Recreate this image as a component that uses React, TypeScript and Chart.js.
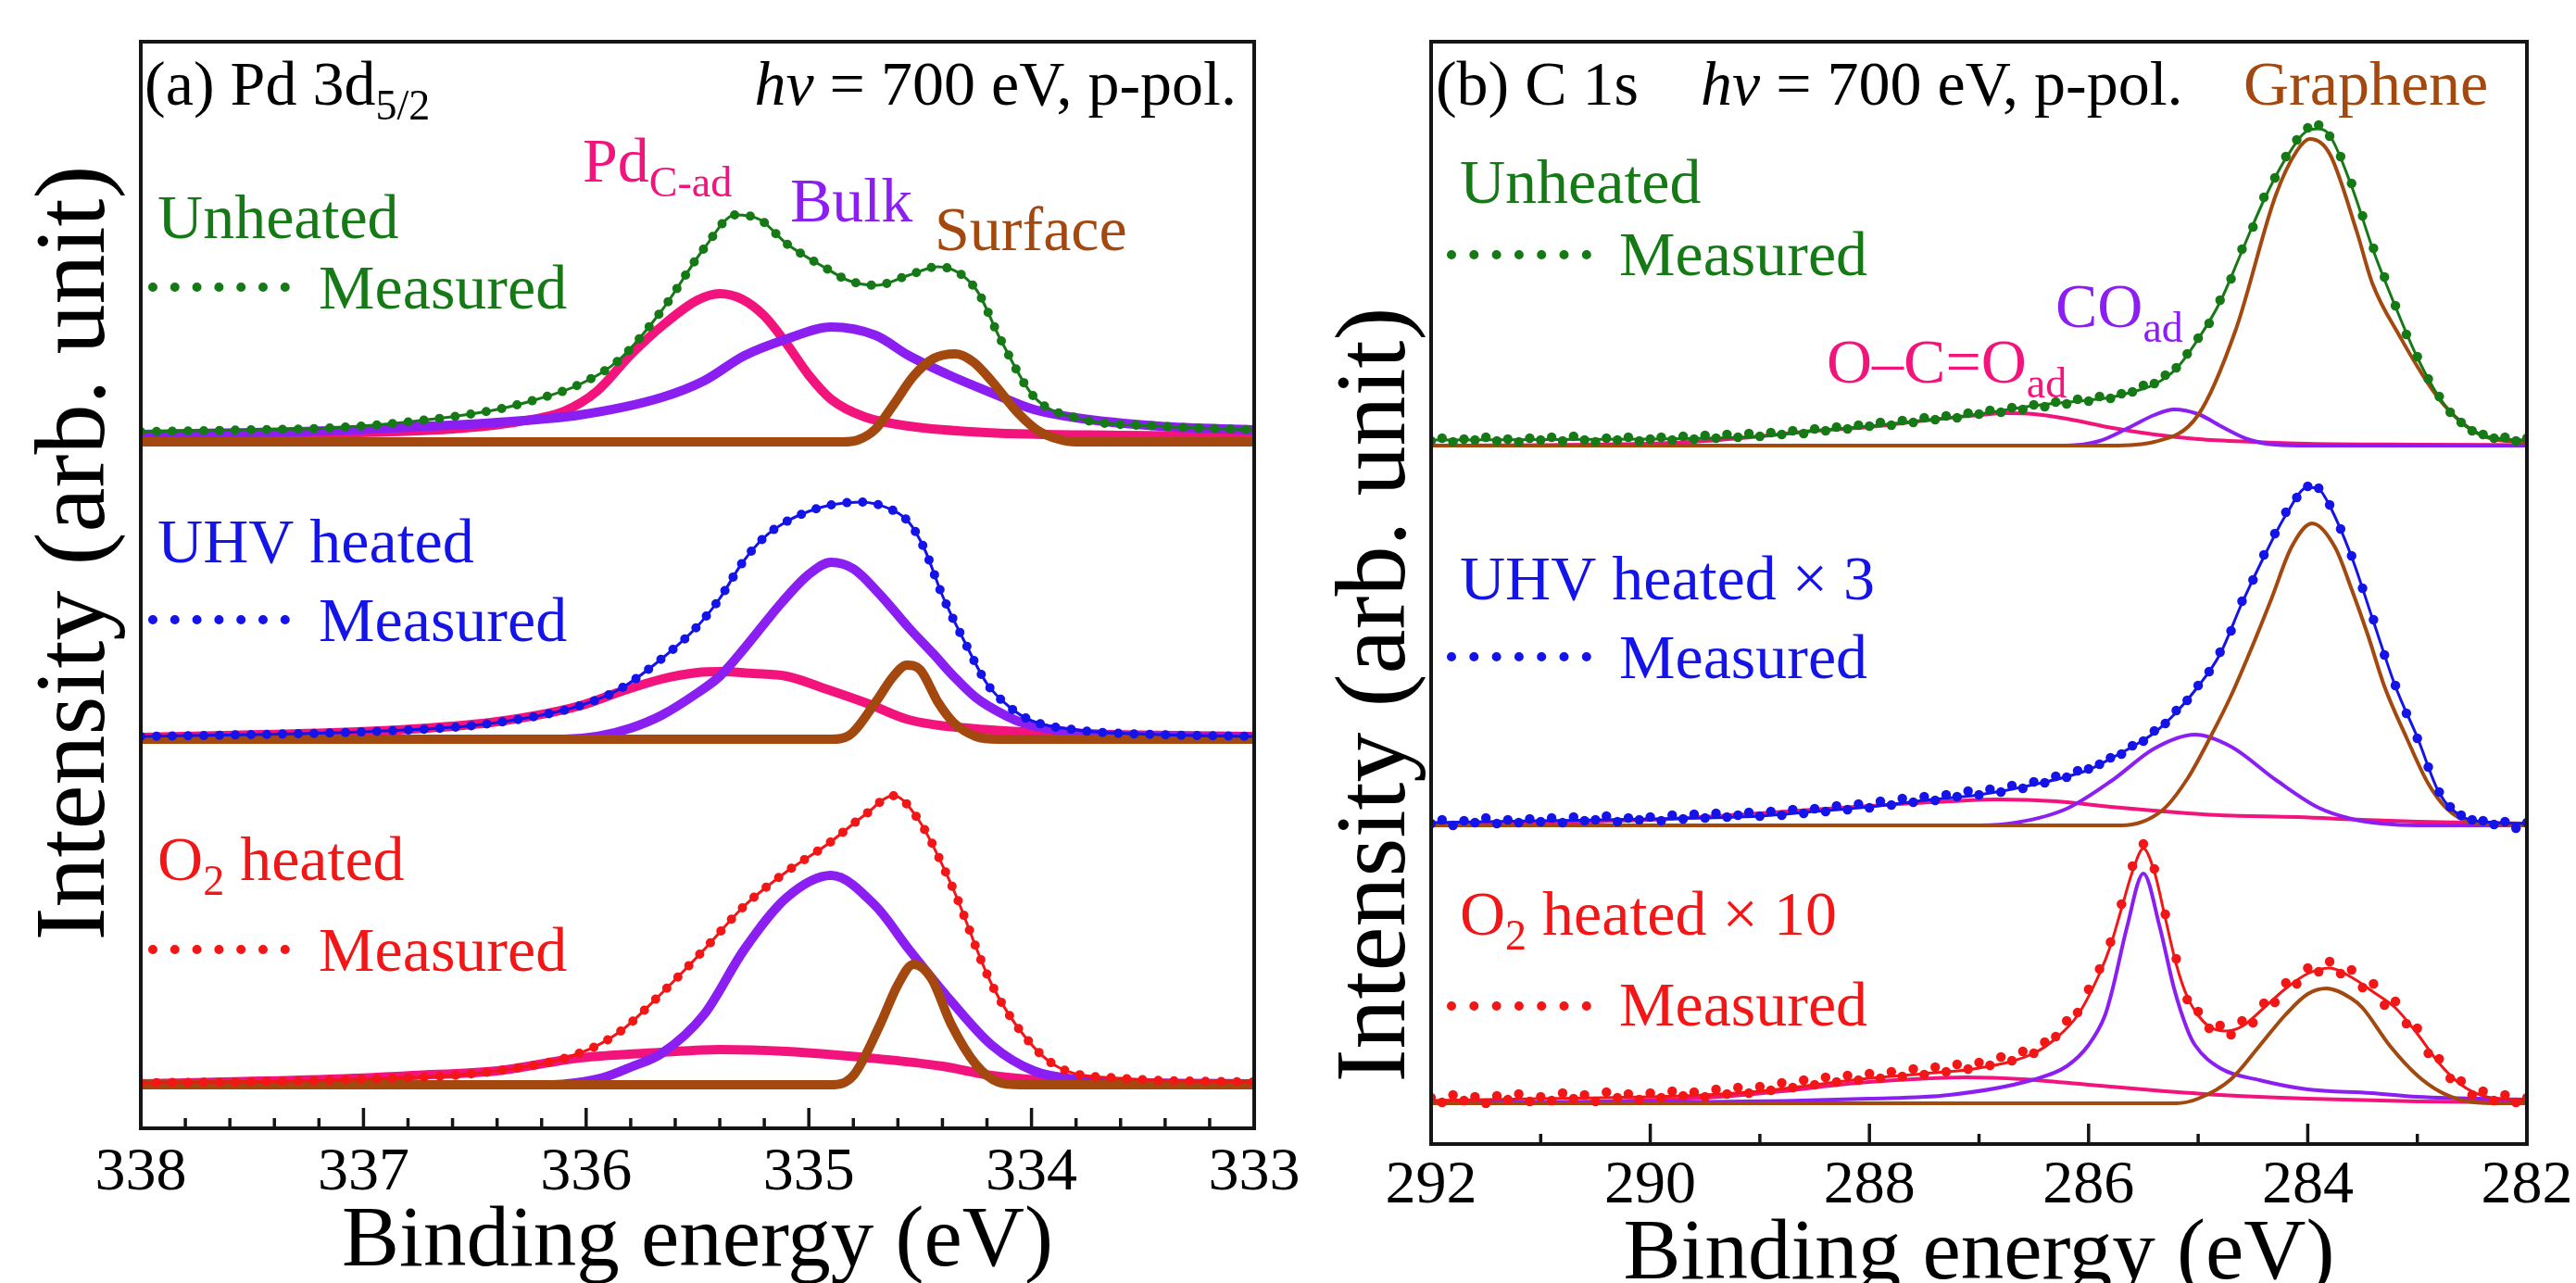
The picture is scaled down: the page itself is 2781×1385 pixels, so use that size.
import { useEffect, useRef } from "react";
import { Chart, registerables } from "chart.js";
Chart.register(...registerables);

type P = [number, number];
const FONT = "'Liberation Serif', 'Times New Roman', Times, serif";

const GREEN = "#157a15";
const BLUE = "#1414e8";
const RED = "#f21616";
const PINK = "#f2137c";
const PURPLE = "#8b1ff2";
const BROWN = "#a3480f";

// ---------------- Panel (a) Pd 3d5/2 ----------------
const A_OFFSETS = [74.1, 42.0, 4.7]; // Unheated, UHV heated, O2 heated baselines
const A_MAJOR_TICKS = [338, 337, 336, 335, 334, 333];

const A_UNH_MEAS: P[] = [[338, 1.1], [337.5, 1.3], [337.15, 1.5], [336.78, 2.2], [336.4, 3.5], [336.22, 4.6], [336.03, 6.2], [335.85, 8.9], [335.66, 14.2], [335.47, 20.9], [335.33, 24.5], [335.22, 24.0], [335.1, 21.4], [334.92, 18.7], [334.82, 17.4], [334.7, 16.9], [334.55, 18.0], [334.42, 18.9], [334.25, 16.5], [334.14, 11.1], [333.99, 4.9], [333.8, 2.6], [333.43, 1.7], [333, 1.3]];
const A_UNH_PDC: P[] = [[338, 0.7], [337.2, 0.9], [336.6, 1.4], [336.3, 2.2], [336.1, 3.3], [335.95, 5.5], [335.8, 9.4], [335.65, 12.7], [335.5, 15.3], [335.4, 16.0], [335.3, 15.4], [335.2, 13.6], [335.1, 10.6], [335.0, 7.2], [334.9, 4.6], [334.75, 2.7], [334.55, 1.7], [334.2, 1.0], [333.6, 0.7], [333, 0.6]];
const A_UNH_BULK: P[] = [[338, 0.8], [337.15, 1.2], [336.78, 1.6], [336.4, 2.1], [336.03, 2.9], [335.66, 4.8], [335.47, 6.6], [335.29, 9.3], [335.1, 11.1], [334.9, 12.4], [334.7, 11.5], [334.55, 9.3], [334.36, 7.1], [334.18, 5.3], [333.99, 3.5], [333.8, 2.6], [333.43, 1.7], [333, 1.3]];
const A_UNH_SURF: P[] = [[338, 0], [334.85, 0], [334.78, 0.2], [334.7, 1.4], [334.62, 4.0], [334.53, 7.1], [334.44, 9.0], [334.34, 9.5], [334.26, 8.6], [334.18, 6.6], [334.06, 3.1], [333.97, 1.2], [333.88, 0.3], [333.8, 0], [333, 0]];

const A_UHV_MEAS: P[] = [[338, 0.3], [337.5, 0.5], [337, 0.8], [336.5, 1.5], [336.2, 2.6], [336.03, 3.6], [335.85, 5.4], [335.66, 8.7], [335.5, 12.2], [335.4, 15.2], [335.3, 19.0], [335.2, 21.8], [335.1, 23.5], [335, 24.6], [334.9, 25.3], [334.77, 25.6], [334.65, 25.0], [334.55, 23.4], [334.48, 20.5], [334.4, 15.5], [334.3, 10.5], [334.2, 6.0], [334.1, 3.5], [334.0, 2.0], [333.8, 1.0], [333.43, 0.5], [333, 0.3]];
const A_UHV_PDC: P[] = [[338, 0.2], [337.15, 0.7], [336.78, 1.1], [336.4, 1.9], [336.03, 3.6], [335.85, 5.1], [335.66, 6.5], [335.5, 7.2], [335.4, 7.3], [335.25, 7.1], [335.1, 6.8], [334.92, 5.4], [334.73, 3.8], [334.55, 2.1], [334.18, 1.0], [333.8, 0.6], [333, 0.3]];
const A_UHV_BULK: P[] = [[338, 0], [336.1, 0], [335.95, 0.3], [335.8, 1.2], [335.66, 2.6], [335.5, 5.0], [335.4, 6.8], [335.29, 9.8], [335.12, 14.8], [335.0, 17.8], [334.9, 19.1], [334.8, 18.4], [334.68, 15.6], [334.55, 12.0], [334.44, 9.2], [334.35, 6.8], [334.25, 4.5], [334.12, 2.6], [334.03, 1.7], [333.8, 0.7], [333.4, 0.3], [333, 0.2]];
const A_UHV_SURF: P[] = [[338, 0], [334.9, 0], [334.82, 0.4], [334.7, 4.0], [334.62, 6.8], [334.56, 8.0], [334.5, 7.5], [334.42, 4.0], [334.35, 1.8], [334.25, 0.3], [334.15, 0], [333, 0]];

const A_O2_MEAS: P[] = [[338, 0.2], [337.15, 0.5], [336.4, 1.5], [336.03, 3.4], [335.85, 5.7], [335.66, 9.9], [335.47, 14.6], [335.29, 19.3], [335.1, 23.0], [334.92, 25.9], [334.75, 29.1], [334.62, 31.2], [334.51, 28.7], [334.36, 21.6], [334.18, 10.9], [334.03, 5.2], [333.88, 1.9], [333.6, 0.7], [333, 0.3]];
const A_O2_PDC: P[] = [[338, 0.1], [337.15, 0.6], [336.78, 1.0], [336.4, 1.5], [336.03, 2.9], [335.66, 3.5], [335.4, 3.8], [335.1, 3.6], [334.73, 2.9], [334.4, 2.0], [334.18, 1.0], [333.8, 0.3], [333, 0.1]];
const A_O2_BULK: P[] = [[338, 0], [336.15, 0], [336.05, 0.2], [335.92, 0.8], [335.8, 1.9], [335.66, 3.4], [335.47, 7.6], [335.29, 14.6], [335.1, 20.2], [334.9, 22.6], [334.7, 19.3], [334.55, 14.6], [334.36, 9.0], [334.18, 4.3], [333.99, 1.5], [333.8, 0.6], [333.5, 0.2], [333, 0.1]];
const A_O2_SURF: P[] = [[338, 0], [334.9, 0], [334.8, 1.0], [334.68, 6.5], [334.6, 10.8], [334.53, 13.0], [334.45, 11.5], [334.36, 6.5], [334.25, 2.2], [334.15, 0.3], [334.05, 0], [333, 0]];

// ---------------- Panel (b) C 1s ----------------
const B_OFFSETS = [75.4, 34.4, 4.4];
const B_MAJOR_TICKS = [292, 290, 288, 286, 284, 282];
const B_MEAS_START = 292;
const B_MEAS_STEP = 0.1;

const B_UNH_MEAS = [
  0.5, 0.8, 0.4, 0.7, 0.6, 0.9, 0.5, 0.7, 0.4, 0.8,
  0.6, 0.9, 0.5, 1.0, 0.6, 0.4, 0.8, 0.6, 0.9, 0.5,
  0.7, 0.9, 0.6, 1.0, 0.7, 1.1, 0.8, 1.2, 0.9, 1.3,
  1.0, 1.4, 1.2, 1.6, 1.3, 1.8, 1.6, 2.0, 1.8, 2.2,
  2.1, 2.5, 2.2, 2.7, 2.5, 3.0, 2.8, 3.2, 3.0, 3.5,
  3.4, 3.8, 3.6, 4.1, 3.9, 4.4, 4.2, 4.7, 4.5, 5.0,
  4.8, 5.3, 5.1, 5.6, 5.8, 6.5, 6.7, 7.6, 8.4, 9.9,
  11.6, 13.2, 15.7, 18.0, 21.2, 23.6, 26.8, 28.9, 31.2, 33.0,
  34.3, 34.6, 33.4, 31.2, 28.3, 24.8, 21.3, 18.2, 15.1, 12.0,
  9.6, 7.2, 5.3, 3.6, 2.5, 1.6, 1.2, 0.8, 0.9, 0.5,
  0.8,
];
const B_UNH_FIT: P[] = [[292, 0.6], [290, 0.7], [289, 1.0], [288.5, 1.6], [288, 2.1], [287.5, 2.7], [287, 3.4], [286.5, 4.3], [286, 4.9], [285.8, 5.2], [285.6, 5.8], [285.4, 6.6], [285.2, 8.3], [285, 11.5], [284.8, 15.5], [284.6, 21], [284.4, 26.5], [284.2, 31], [284, 34.0], [283.9, 34.2], [283.8, 33.5], [283.6, 28], [283.4, 21], [283.2, 15], [283, 9.5], [282.8, 5.2], [282.6, 2.5], [282.4, 1.1], [282.2, 0.7], [282, 0.6]];
const B_UNH_GRAPH: P[] = [[292, 0], [285.8, 0], [285.4, 0.4], [285, 3.3], [284.66, 12.4], [284.29, 27.1], [284.1, 31.8], [283.98, 33.1], [283.8, 31.5], [283.55, 23.0], [283.41, 17.5], [283.17, 12.0], [282.8, 5.0], [282.43, 1.2], [282, 0.3]];
const B_UNH_CO: P[] = [[292, 0], [286.2, 0], [285.9, 0.5], [285.63, 1.95], [285.4, 3.3], [285.22, 3.9], [285, 3.4], [284.77, 1.95], [284.55, 0.7], [284.3, 0.1], [284, 0], [282, 0]];
const B_UNH_OCO: P[] = [[292, 0], [290, 0.2], [289.5, 0.5], [289, 1.0], [288.5, 1.6], [288, 2.0], [287.5, 2.7], [287, 3.3], [286.75, 3.5], [286.5, 3.4], [286.2, 2.9], [285.78, 1.9], [285.4, 1.2], [285, 0.7], [284.5, 0.4], [284, 0.2], [283, 0.1], [282, 0.05]];

const B_UHV_MEAS = [
  0.2, 0.6, 0.0, 0.5, 0.3, 0.8, 0.2, 0.6, 0.3, 0.7,
  0.4, 0.8, 0.3, 0.9, 0.5, 0.6, 1.0, 0.4, 0.8, 0.6,
  0.9, 0.5, 1.1, 0.7, 1.2, 0.8, 1.3, 0.9, 1.1, 1.4,
  1.0, 1.5, 1.1, 1.7, 1.3, 1.8, 1.5, 2.1, 1.7, 2.3,
  1.9, 2.6, 2.2, 2.9, 2.5, 3.1, 2.7, 3.3, 3.1, 3.7,
  3.3, 3.9, 3.6, 4.3, 4.0, 4.7, 4.6, 5.3, 5.2, 5.9,
  6.1, 6.6, 7.3, 7.7, 8.6, 9.1, 10.2, 11.0, 12.4, 13.5,
  15.1, 16.6, 18.7, 21.0, 24.2, 26.5, 29.2, 31.5, 33.8, 35.4,
  36.6, 36.4, 34.6, 32.0, 29.1, 25.6, 22.2, 18.4, 15.1, 12.1,
  9.4, 6.3, 3.6, 2.0, 1.1, 0.6, 0.5, 0.1, 0.4, -0.3,
  0.3,
];
const B_UHV_FIT: P[] = [[292, 0.3], [291, 0.5], [290, 0.7], [289, 1.0], [288.5, 1.5], [288, 2.0], [287.5, 2.7], [287, 3.3], [286.5, 4.4], [286, 6.0], [285.8, 7.2], [285.6, 8.5], [285.4, 10.0], [285.2, 12.2], [285, 15.0], [284.8, 18.5], [284.6, 24], [284.4, 29], [284.2, 33.5], [284, 36.5], [283.9, 36.3], [283.8, 34.5], [283.6, 29], [283.4, 22], [283.2, 15], [283, 9.5], [282.8, 3.5], [282.6, 1.0], [282.4, 0.4], [282, 0.2]];
const B_UHV_GRAPH: P[] = [[292, 0], [285.7, 0], [285.33, 1.6], [285.1, 5.0], [284.89, 9.5], [284.7, 14.0], [284.5, 19.5], [284.33, 24.5], [284.15, 30.0], [283.96, 32.6], [283.75, 30.0], [283.6, 25.5], [283.45, 20.5], [283.3, 15.0], [283.1, 9.5], [282.9, 4.5], [282.73, 1.8], [282.5, 0.3], [282, 0]];
const B_UHV_CO: P[] = [[292, 0], [287, 0], [286.66, 0.3], [286.2, 1.8], [285.78, 4.9], [285.4, 8.3], [285.03, 9.8], [284.7, 8.5], [284.29, 4.9], [283.9, 1.9], [283.6, 0.7], [283.33, 0.2], [283, 0], [282, 0]];
const B_UHV_OCO: P[] = [[292, 0], [291, 0.3], [290, 0.6], [289, 1.3], [288, 2.1], [287.27, 2.6], [286.83, 2.8], [286.3, 2.6], [285.8, 2.0], [285.41, 1.6], [284.8, 1.1], [284.09, 0.9], [283.5, 0.6], [283, 0.4], [282, 0.2]];

const B_O2_MEAS = [
  0.6, 0.1, 0.9, 0.3, 0.7, 0.0, 0.8, 0.4, 1.0, 0.2,
  0.7, 0.3, 1.1, 0.5, 0.9, 0.2, 1.2, 0.6, 1.0, 0.4,
  1.1, 0.6, 1.3, 0.8, 1.2, 0.7, 1.5, 1.0, 1.7, 1.1,
  1.8, 1.4, 2.2, 1.7, 2.5, 2.0, 2.8, 2.3, 3.0, 2.5,
  3.2, 2.7, 3.4, 2.9, 3.7, 3.1, 3.9, 3.4, 4.2, 3.7,
  4.4, 4.1, 5.0, 4.6, 5.6, 5.4, 6.6, 7.2, 8.9, 9.8,
  12.3, 14.5, 17.4, 21.5, 25.6, 28.0, 25.3, 20.4, 15.6, 11.2,
  9.9, 8.1, 8.4, 7.4, 8.9, 8.7, 10.8, 10.9, 13.0, 12.9,
  14.6, 14.2, 15.3, 14.0, 14.4, 12.5, 12.9, 10.6, 11.0, 8.6,
  8.1, 5.4, 4.8, 2.7, 2.4, 0.9, 1.3, 0.3, 0.9, 0.1,
  0.6,
];
const B_O2_FIT: P[] = [[292, 0.3], [291, 0.5], [290, 0.7], [289.5, 0.9], [289, 1.3], [288.5, 2.0], [288, 2.7], [287.5, 3.2], [287, 3.8], [286.5, 5.4], [286.3, 7], [286.1, 9.5], [285.9, 14], [285.8, 17], [285.7, 21], [285.6, 25], [285.5, 27.5], [285.4, 25], [285.3, 20], [285.2, 15], [285.1, 11.5], [285, 9.5], [284.9, 8.3], [284.75, 7.8], [284.6, 8.3], [284.4, 10.3], [284.2, 12.4], [284, 14.0], [283.8, 14.6], [283.6, 13.6], [283.4, 12.0], [283.2, 10.3], [283, 7.5], [282.8, 4.3], [282.6, 2.0], [282.4, 0.8], [282, 0.3]];
const B_O2_CO: P[] = [[292, 0.1], [289.5, 0.15], [288, 0.5], [287.27, 0.9], [286.52, 2.5], [286.2, 4.0], [286, 6.3], [285.85, 9.5], [285.78, 12.4], [285.65, 19], [285.5, 24.8], [285.35, 19], [285.22, 12.4], [285.1, 8.0], [285.03, 6.3], [284.8, 3.8], [284.44, 2.5], [284, 1.5], [283.42, 1.1], [283, 0.7], [282, 0.4]];
const B_O2_GRAPH: P[] = [[292, 0], [285.2, 0], [285, 0.5], [284.7, 2.6], [284.44, 6.2], [284.2, 9.6], [284, 11.8], [283.83, 12.4], [283.6, 11.3], [283.5, 10.3], [283.25, 6.2], [283, 3.0], [282.8, 1.3], [282.58, 0.3], [282.3, 0], [282, 0]];
const B_O2_OCO: P[] = [[292, 0], [290.5, 0.2], [289.5, 0.6], [288.8, 1.3], [288.2, 2.1], [287.6, 2.6], [287.12, 2.8], [286.6, 2.6], [286, 2.0], [285.4, 1.4], [284.8, 0.9], [284, 0.5], [283, 0.2], [282, 0.1]];

// ---------------- helpers ----------------
interface Part { t: string; sub?: boolean; italic?: boolean }
interface Label { e: number; v: number; parts: Part[]; color: string; align?: "left" | "right" }
interface Dots { e1: number; e2: number; v: number; color: string; gap: number }
interface PanelCfg {
  id: string;
  major: number[];
  minorStep: number;
  min: number;
  max: number;
  labels: Label[];
  dots: Dots[];
  xTitleDy: number;
  yTitleDx: number;
  yTitleCy: number;
}

const T = (t: string, color: string, e: number, v: number): Label => ({ e, v, color, parts: [{ t }] });

const lineDs = (pts: P[], off: number, color: string, width: number) => ({
  data: pts.map(([e, v]) => ({ x: e, y: v + off })),
  borderColor: color,
  backgroundColor: color,
  borderWidth: width,
  pointRadius: 0,
  cubicInterpolationMode: "monotone" as const,
  fill: false,
});

const dottedDs = (pts: P[], off: number, color: string) => ({
  ...lineDs(pts, off, color, 10),
  borderDash: [0, 17],
  borderCapStyle: "round" as const,
});

const scatterDs = (vals: number[], off: number, color: string) => ({
  data: vals.map((v, i) => ({ x: B_MEAS_START - i * B_MEAS_STEP, y: v + off })),
  showLine: false,
  pointRadius: 5.2,
  pointBorderWidth: 0,
  pointBackgroundColor: color,
  borderColor: color,
  backgroundColor: color,
});

function overlay(cfg: PanelCfg) {
  return {
    id: "overlay_" + cfg.id,
    afterDraw(chart: any) {
      const { ctx, chartArea: ca } = chart;
      const xs = chart.scales.x;
      const ys = chart.scales.y;
      ctx.save();
      ctx.setLineDash([]);
      ctx.strokeStyle = "#151515";
      ctx.lineWidth = 4;
      ctx.strokeRect(ca.left, ca.top, ca.right - ca.left, ca.bottom - ca.top);
      ctx.lineWidth = 3.5;
      const n = Math.round((cfg.max - cfg.min) / cfg.minorStep);
      for (let i = 0; i <= n; i++) {
        const v = cfg.min + i * cfg.minorStep;
        const isMajor = cfg.major.some((m) => Math.abs(m - v) < 1e-6);
        const x = xs.getPixelForValue(v);
        ctx.beginPath();
        ctx.moveTo(x, ca.bottom);
        ctx.lineTo(x, ca.bottom - (isMajor ? 22 : 11));
        ctx.stroke();
      }
      cfg.dots.forEach((d) => {
        ctx.save();
        ctx.strokeStyle = d.color;
        ctx.lineWidth = 10;
        ctx.lineCap = "round";
        ctx.setLineDash([0, d.gap]);
        const y = ys.getPixelForValue(d.v);
        ctx.beginPath();
        ctx.moveTo(xs.getPixelForValue(d.e1), y);
        ctx.lineTo(xs.getPixelForValue(d.e2) + 1, y);
        ctx.stroke();
        ctx.restore();
      });
      ctx.textBaseline = "alphabetic";
      ctx.textAlign = "left";
      cfg.labels.forEach((l) => {
        const fontOf = (p: Part) => `${p.italic ? "italic " : ""}${p.sub ? 46 : 68}px ${FONT}`;
        let total = 0;
        l.parts.forEach((p) => {
          ctx.font = fontOf(p);
          total += ctx.measureText(p.t).width;
        });
        let x = xs.getPixelForValue(l.e);
        if (l.align === "right") x -= total;
        const y = ys.getPixelForValue(l.v);
        ctx.fillStyle = l.color;
        l.parts.forEach((p) => {
          ctx.font = fontOf(p);
          ctx.fillText(p.t, x, p.sub ? y + 16 : y);
          x += ctx.measureText(p.t).width;
        });
      });
      ctx.fillStyle = "#000";
      ctx.font = `93px ${FONT}`;
      ctx.textAlign = "center";
      ctx.fillText("Binding energy (eV)", (ca.left + ca.right) / 2, ca.bottom + cfg.xTitleDy);
      ctx.save();
      ctx.translate(ca.left - cfg.yTitleDx, cfg.yTitleCy);
      ctx.rotate(-Math.PI / 2);
      ctx.font = `108px ${FONT}`;
      ctx.fillText("Intensity (arb. unit)", 0, 0);
      ctx.restore();
      ctx.restore();
    },
  };
}

const CFG_A: PanelCfg = {
  id: "a",
  major: A_MAJOR_TICKS,
  minorStep: 0.2,
  min: 333,
  max: 338,
  xTitleDy: 148,
  yTitleDx: 40,
  yTitleCy: 597,
  labels: [
    { e: 337.983, v: 110.5, color: "#000", parts: [{ t: "(a) Pd 3d" }, { t: "5/2", sub: true }] },
    { e: 333.079, v: 110.5, color: "#000", align: "right", parts: [{ t: "hv", italic: true }, { t: " = 700 eV, p-pol." }] },
    { e: 336.016, v: 102.2, color: PINK, parts: [{ t: "Pd" }, { t: "C-ad", sub: true }] },
    T("Bulk", PURPLE, 335.084, 97.9),
    T("Surface", BROWN, 334.435, 94.8),
    T("Unheated", GREEN, 337.925, 96.1),
    T("Measured", GREEN, 337.201, 88.5),
    T("UHV heated", BLUE, 337.925, 61.1),
    T("Measured", BLUE, 337.201, 52.6),
    { e: 337.925, v: 26.8, color: RED, parts: [{ t: "O" }, { t: "2", sub: true }, { t: " heated" }] },
    T("Measured", RED, 337.201, 17.0),
  ],
  dots: [
    { e1: 337.946, e2: 337.351, v: 90.8, color: GREEN, gap: 23.8 },
    { e1: 337.946, e2: 337.351, v: 54.9, color: BLUE, gap: 23.8 },
    { e1: 337.946, e2: 337.351, v: 19.3, color: RED, gap: 23.8 },
  ],
};

const CFG_B: PanelCfg = {
  id: "b",
  major: B_MAJOR_TICKS,
  minorStep: 1,
  min: 282,
  max: 292,
  xTitleDy: 145,
  yTitleDx: 29,
  yTitleCy: 750,
  labels: [
    T("(b) C 1s", "#000", 291.958, 112.2),
    { e: 289.54, v: 112.2, color: "#000", parts: [{ t: "hv", italic: true }, { t: " = 700 eV, p-pol." }] },
    T("Graphene", BROWN, 284.587, 112.2),
    T("Unheated", GREEN, 291.738, 101.6),
    T("Measured", GREEN, 290.284, 93.8),
    { e: 286.303, v: 88.2, color: PURPLE, parts: [{ t: "CO" }, { t: "ad", sub: true }] },
    { e: 288.391, v: 82.2, color: PINK, parts: [{ t: "O\u2013C=O" }, { t: "ad", sub: true }] },
    T("UHV heated \u00d7 3", BLUE, 291.738, 58.8),
    T("Measured", BLUE, 290.284, 50.3),
    { e: 291.738, v: 22.6, color: RED, parts: [{ t: "O" }, { t: "2", sub: true }, { t: " heated \u00d7 10" }] },
    T("Measured", RED, 290.284, 12.8),
  ],
  dots: [
    { e1: 291.814, e2: 290.58, v: 96.0, color: GREEN, gap: 24.3 },
    { e1: 291.814, e2: 290.58, v: 52.6, color: BLUE, gap: 24.3 },
    { e1: 291.814, e2: 290.58, v: 14.9, color: RED, gap: 24.3 },
  ],
};

const W = 2781;
const H = 1385;

function makeChart(canvas: HTMLCanvasElement, cfg: PanelCfg, datasets: any[], pad: { left: number; right: number; top: number }, xHeight: number, yMax: number, step: number, tickPad: number) {
  return new Chart(canvas, {
    type: "line",
    data: { datasets },
    options: {
      responsive: false,
      animation: false,
      events: [],
      layout: { padding: { left: pad.left, right: pad.right, top: pad.top, bottom: 0 } },
      plugins: { legend: { display: false }, tooltip: { enabled: false } },
      scales: {
        x: {
          type: "linear",
          position: "bottom",
          min: cfg.min,
          max: cfg.max,
          reverse: true,
          grid: { display: false },
          border: { display: false },
          ticks: {
            stepSize: step,
            autoSkip: false,
            maxRotation: 0,
            padding: tickPad,
            color: "#000",
            font: { family: FONT, size: 66 },
          },
          afterFit: (s: any) => {
            s.height = xHeight;
          },
        },
        y: { type: "linear", display: false, min: 0, max: yMax },
      },
    },
    plugins: [overlay(cfg) as any],
  } as any);
}

export default function App() {
  const refA = useRef<HTMLCanvasElement>(null);
  const refB = useRef<HTMLCanvasElement>(null);

  useEffect(() => {
    const [ua, va, oa] = A_OFFSETS;
    const dsA = [
      dottedDs(A_UNH_MEAS, ua, GREEN),
      dottedDs(A_UHV_MEAS, va, BLUE),
      dottedDs(A_O2_MEAS, oa, RED),
      lineDs(A_UNH_MEAS, ua, GREEN, 3),
      lineDs(A_UHV_MEAS, va, BLUE, 3),
      lineDs(A_O2_MEAS, oa, RED, 3),
      lineDs(A_UNH_SURF, ua, BROWN, 10),
      lineDs(A_UHV_SURF, va, BROWN, 10),
      lineDs(A_O2_SURF, oa, BROWN, 10),
      lineDs(A_UNH_BULK, ua, PURPLE, 10),
      lineDs(A_UHV_BULK, va, PURPLE, 10),
      lineDs(A_O2_BULK, oa, PURPLE, 10),
      lineDs(A_UNH_PDC, ua, PINK, 10),
      lineDs(A_UHV_PDC, va, PINK, 10),
      lineDs(A_O2_PDC, oa, PINK, 10),
    ];
    const [ub, vb, ob] = B_OFFSETS;
    const dsB = [
      scatterDs(B_UNH_MEAS, ub, GREEN),
      scatterDs(B_UHV_MEAS, vb, BLUE),
      scatterDs(B_O2_MEAS, ob, RED),
      lineDs(B_UNH_FIT, ub, GREEN, 3),
      lineDs(B_UHV_FIT, vb, BLUE, 3),
      lineDs(B_O2_FIT, ob, RED, 3),
      lineDs(B_UNH_GRAPH, ub, BROWN, 4),
      lineDs(B_UHV_GRAPH, vb, BROWN, 4),
      lineDs(B_O2_GRAPH, ob, BROWN, 4),
      lineDs(B_UNH_CO, ub, PURPLE, 4),
      lineDs(B_UHV_CO, vb, PURPLE, 4),
      lineDs(B_O2_CO, ob, PURPLE, 4),
      lineDs(B_UNH_OCO, ub, PINK, 4),
      lineDs(B_UHV_OCO, vb, PINK, 4),
      lineDs(B_O2_OCO, ob, PINK, 4),
    ];
    const cA = makeChart(refA.current!, CFG_A, dsA, { left: 152, right: W - 1354, top: 45 }, H - 1218, 117.3, 1, 1);
    const cB = makeChart(refB.current!, CFG_B, dsB, { left: 1545, right: W - 2728, top: 45 }, H - 1235, 119.0, 2, -2);
    return () => {
      cA.destroy();
      cB.destroy();
    };
  }, []);

  const cs: any = { position: "absolute", left: 0, top: 0, width: W, height: H };
  return (
    <div style={{ position: "absolute", left: 0, top: 0, width: W, height: H, background: "#fff", overflow: "hidden" }}>
      <canvas ref={refA} width={W} height={H} style={cs} />
      <canvas ref={refB} width={W} height={H} style={cs} />
    </div>
  );
}
